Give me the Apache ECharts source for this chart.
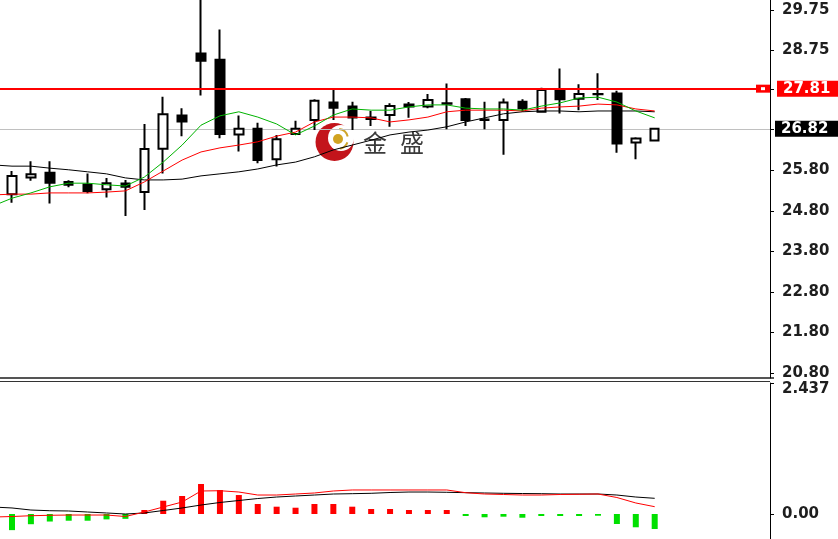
<!DOCTYPE html>
<html><head><meta charset="utf-8">
<script src="https://cdn.jsdelivr.net/npm/echarts@6/dist/echarts.min.js"></script>
<style>html,body{margin:0;padding:0;background:#fff}#c{width:838px;height:539px}</style>
</head><body><div id="c"></div>
<script>
// ---------- data ----------
// bar index 0 is the bar just left of the visible window (only its averages show)
const barIndex = [0,1,2,3,4,5,6,7,8,9,10,11,12,13,14,15,16,17,18,19,20,21,22,23,24,25,26,27,28,29,30,31,32,33,34,35];

const opens  = [null,25.21,25.62,25.74,25.51,25.45,25.33,25.47,25.26,26.33,27.15,28.68,28.52,26.68,26.82,26.07,26.69,27.04,27.47,27.37,27.06,27.16,27.42,27.37,27.44,27.55,27.04,27.04,27.49,27.24,27.79,27.56,27.68,27.69,26.48,26.53];
const closes = [null,25.66,25.70,25.49,25.44,25.29,25.48,25.39,26.32,27.18,27.00,28.50,26.69,26.82,26.05,26.56,26.82,27.51,27.34,27.10,27.10,27.38,27.37,27.53,27.45,27.04,27.05,27.47,27.33,27.78,27.55,27.68,27.67,26.46,26.58,26.82];
const lows   = [null,25.00,25.54,24.98,25.38,25.23,25.13,24.67,24.82,25.72,26.64,27.64,26.59,26.26,25.97,25.89,26.67,26.79,27.04,26.79,26.89,26.87,27.09,27.33,26.81,26.89,26.81,26.18,27.24,27.23,27.20,27.28,27.53,26.23,26.07,26.53];
const highs  = [null,25.78,26.02,26.02,25.55,25.72,25.61,25.56,26.94,27.61,27.33,30.40,29.27,27.15,26.97,26.67,27.02,27.55,27.78,27.49,27.26,27.45,27.48,27.68,27.94,27.58,27.49,27.57,27.55,27.83,28.31,27.92,28.19,27.76,26.61,26.83];

const maGreen = [24.92,25.11,25.24,25.39,25.48,25.48,25.44,25.41,25.63,26.00,26.42,26.91,27.14,27.24,27.11,26.94,26.67,26.89,27.16,27.31,27.28,27.28,27.36,27.41,27.41,27.33,27.31,27.31,27.28,27.38,27.46,27.58,27.60,27.48,27.26,27.09];
const maRed   = [25.19,25.21,25.21,25.24,25.24,25.24,25.26,25.29,25.51,25.78,26.05,26.25,26.35,26.42,26.50,26.64,26.74,26.99,27.11,27.11,27.09,26.99,27.04,27.11,27.24,27.28,27.28,27.28,27.26,27.33,27.36,27.38,27.43,27.41,27.31,27.26];
const maBlack = [25.93,25.90,25.90,25.85,25.81,25.76,25.71,25.61,25.56,25.56,25.58,25.66,25.71,25.76,25.83,25.93,26.00,26.13,26.30,26.42,26.54,26.67,26.74,26.79,26.87,26.99,27.09,27.19,27.24,27.26,27.26,27.24,27.26,27.26,27.26,27.24];

const histValues = [null,-0.30,-0.19,-0.14,-0.125,-0.125,-0.10,-0.09,0.074,0.247,0.335,0.558,0.447,0.353,0.186,0.136,0.117,0.186,0.186,0.136,0.093,0.093,0.074,0.074,0.074,-0.037,-0.061,-0.05,-0.069,-0.037,-0.037,-0.037,-0.032,-0.186,-0.247,-0.279];
const lowerBlack = [0.130,0.112,0.074,0.061,0.056,0.037,0.019,0,0.019,0.065,0.112,0.167,0.214,0.251,0.288,0.316,0.335,0.353,0.372,0.378,0.385,0.400,0.409,0.409,0.404,0.397,0.391,0.385,0.381,0.378,0.372,0.372,0.372,0.353,0.316,0.292];
const lowerRed   = [-0.056,-0.047,-0.032,-0.024,-0.019,-0.019,-0.019,-0.047,0.037,0.130,0.223,0.428,0.433,0.409,0.353,0.353,0.372,0.391,0.428,0.447,0.447,0.447,0.447,0.447,0.447,0.396,0.372,0.363,0.353,0.353,0.363,0.367,0.372,0.307,0.205,0.136];

const mainTickValues  = [20.80,21.80,22.80,23.80,24.80,25.80,26.80,27.80,28.75,29.75];
const mainLabelValues = [20.80,21.80,22.80,23.80,24.80,25.80,28.75,29.75];
const lowerTickValues = [0, 2.437];
const lowerTickLabels = ['0.00', '2.437'];
const resistanceLevel = 27.81;
const lastPrice = 26.82;
const mainRange = [20.677, 29.996];
const lowerRange = [-0.465, 2.437];
const barRange = [0.365, 41.1];   // visible span of the time axis, in bars

// ---------- chart ----------
const candleData = [];
barIndex.forEach((k, i) => { if (opens[i] != null) candleData.push([k, opens[i], closes[i], lows[i], highs[i]]); });
const pairs = arr => barIndex.map((k, i) => [k, arr[i]]);
const histData = [];
barIndex.forEach((k, i) => { if (histValues[i] != null) histData.push([k, histValues[i]]); });
const labelFont = { color: '#1e1e1e', fontSize: 15, fontWeight: 'bold', fontFamily: 'DejaVu Sans' };

const chart = echarts.init(document.getElementById('c'));
chart.setOption({
  animation: false,
  backgroundColor: '#ffffff',
  grid: [
    { left: 0, top: 0, width: 770, height: 378 },
    { left: 0, top: 383, width: 770, height: 156 }
  ],
  xAxis: [
    { gridIndex: 0, type: 'value', min: barRange[0], max: barRange[1], show: false, splitLine: { show: false } },
    { gridIndex: 1, type: 'value', min: barRange[0], max: barRange[1], show: false, splitLine: { show: false } }
  ],
  yAxis: [
    { gridIndex: 0, type: 'value', position: 'right', min: mainRange[0], max: mainRange[1],
      splitLine: { show: false },
      axisLine: { show: true, lineStyle: { color: '#000', width: 1 } },
      axisTick: { show: true, length: 4, lineStyle: { color: '#000' }, customValues: mainTickValues },
      axisLabel: Object.assign({ margin: 12, customValues: mainLabelValues, formatter: v => v.toFixed(2) }, labelFont) },
    { gridIndex: 1, type: 'value', position: 'right', min: lowerRange[0], max: lowerRange[1],
      splitLine: { show: false },
      axisLine: { show: true, lineStyle: { color: '#000', width: 1 } },
      axisTick: { show: true, length: 4, lineStyle: { color: '#000' }, customValues: lowerTickValues },
      axisLabel: Object.assign({ margin: 12, customValues: lowerTickValues,
        formatter: v => { const i = lowerTickValues.findIndex(t => Math.abs(t - v) < 1e-6); const s = lowerTickLabels[i]; return i === 1 ? '{top|' + s + '}' : s; },
        rich: { top: Object.assign({ padding: [12, 0, 0, 0] }, labelFont) } }, labelFont) }
  ],
  graphic: [
    { type: 'rect', shape: { x: 0, y: 377, width: 774, height: 2 }, style: { fill: '#555' } },
    { type: 'line', shape: { x1: 0, y1: 381.5, x2: 770, y2: 381.5 }, style: { stroke: '#333', lineWidth: 1 } },
    // watermark logo
    { type: 'circle', shape: { cx: 334.5, cy: 142, r: 19 }, style: { fill: '#c3141b' }, z: 0 },
    { type: 'circle', shape: { cx: 341, cy: 138, r: 13 }, style: { fill: '#ffffff' }, z: 0 },
    { type: 'circle', shape: { cx: 338, cy: 139, r: 5 }, style: { fill: '#d1a321' }, z: 0 },
    { type: 'arc', shape: { cx: 338, cy: 139, r: 10, startAngle: -1.45, endAngle: -0.25 }, style: { stroke: '#cfa52a', lineWidth: 2, fill: 'none' }, z: 0 },
    { type: 'arc', shape: { cx: 338, cy: 139, r: 10, startAngle: 0.35, endAngle: 1.35 }, style: { stroke: '#cfa52a', lineWidth: 2, fill: 'none' }, z: 0 },
    { type: 'text', x: 363, y: 143, style: { text: '金', fill: '#3a3a3a', fontSize: 24, fontFamily: 'Noto Sans CJK SC', verticalAlign: 'middle' }, z: 0 },
    { type: 'text', x: 400, y: 143, style: { text: '盛', fill: '#3a3a3a', fontSize: 24, fontFamily: 'Noto Sans CJK SC', verticalAlign: 'middle' }, z: 0 }
  ],
  series: [
    { type: 'candlestick', xAxisIndex: 0, yAxisIndex: 0, data: candleData, barWidth: 9, clip: false, z: 2,
      itemStyle: { color: '#ffffff', color0: '#000000', borderColor: '#000000', borderColor0: '#000000', borderColorDoji: '#000000', borderWidth: 2 },
      markLine: { silent: true, z: 1, symbol: ['none', 'none'], animation: false,
        data: [{ yAxis: lastPrice }],
        lineStyle: { color: '#c0c0c0', width: 1, type: 'solid' },
        label: Object.assign({}, labelFont, { show: true, position: 'end', distance: 5, formatter: lastPrice.toFixed(2), color: '#fff', backgroundColor: '#000', width: 57, padding: [1, 0, 0, 6] }) } },
    { type: 'line', xAxisIndex: 0, yAxisIndex: 0, data: pairs(maBlack), symbol: 'none', z: 3, lineStyle: { color: '#000', width: 1 } },
    { type: 'line', xAxisIndex: 0, yAxisIndex: 0, data: pairs(maRed), symbol: 'none', z: 3, lineStyle: { color: '#ff0000', width: 1 } },
    { type: 'line', xAxisIndex: 0, yAxisIndex: 0, data: pairs(maGreen), symbol: 'none', z: 3, lineStyle: { color: '#00b300', width: 1 },
      markLine: { silent: true, symbol: ['none', 'none'], animation: false,
        data: [{ yAxis: resistanceLevel }],
        lineStyle: { color: '#ff0000', width: 2, type: 'solid' },
        label: Object.assign({}, labelFont, { show: true, position: 'end', distance: 7, formatter: resistanceLevel.toFixed(2), color: '#fff', backgroundColor: '#ff0000', width: 55, padding: [1, 0, 0, 6] }) },
      markPoint: { silent: true, animation: false, label: { show: false },
        data: [
          { coord: [barRange[1], resistanceLevel], symbol: 'rect', symbolSize: [14, 8], symbolOffset: [-7, 0], itemStyle: { color: '#ff0000' } },
          { coord: [barRange[1], resistanceLevel], symbol: 'rect', symbolSize: [4, 3], symbolOffset: [-7, 0], itemStyle: { color: '#ffffff' } }
        ] } },
    { type: 'bar', xAxisIndex: 1, yAxisIndex: 1, data: histData, barWidth: 6, z: 2,
      itemStyle: { color: p => (p.value[1] >= 0 ? '#ff0000' : '#00e000') } },
    { type: 'line', xAxisIndex: 1, yAxisIndex: 1, data: pairs(lowerBlack), symbol: 'none', z: 3, lineStyle: { color: '#000', width: 1 } },
    { type: 'line', xAxisIndex: 1, yAxisIndex: 1, data: pairs(lowerRed), symbol: 'none', z: 3, lineStyle: { color: '#ff0000', width: 1 } }
  ]
});
</script>
</body></html>
